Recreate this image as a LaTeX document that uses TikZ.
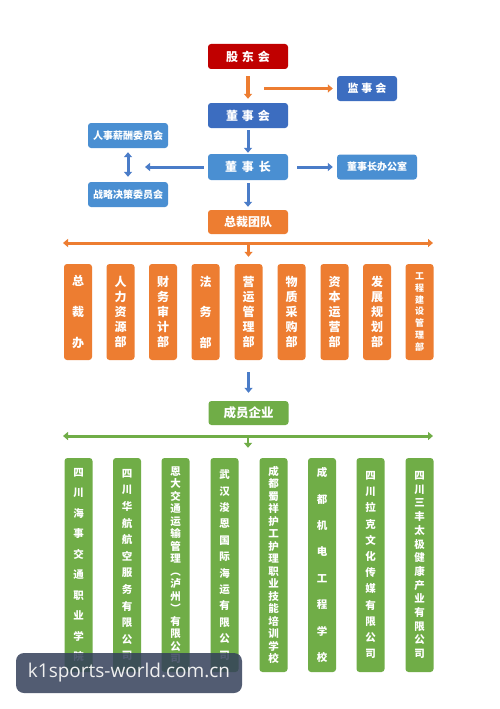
\documentclass[tikz,border=0pt]{standalone}
\usepackage{fontspec}
\newfontfamily\cjk{Noto Sans CJK SC}
\setsansfont{Open Sans}
\usetikzlibrary{arrows.meta}

\definecolor{gdred}{HTML}{C00000}
\definecolor{dsblue}{HTML}{3C6DC0}
\definecolor{lblue}{HTML}{4A8FD2}
\definecolor{arblue}{HTML}{4A7CC8}
\definecolor{zcorange}{HTML}{ED7D31}
\definecolor{cygreen}{HTML}{70AD47}
\definecolor{wmgray}{HTML}{34405A}

\begin{document}
\begin{tikzpicture}[x=1pt,y=-1pt,
    box/.style={draw=none, rounded corners=3pt, text=white, inner sep=0pt, font=\cjk\bfseries\fontsize{12}{14}\selectfont},
    topbox/.style={box, minimum width=80pt, minimum height=25pt},
    dept/.style 2 args={box, fill=zcorange, minimum width=28pt, minimum height=96pt, align=center, font=\cjk\bfseries\fontsize{#1}{#2}\selectfont},
    firm/.style 2 args={box, fill=cygreen, minimum width=28pt, minimum height=214pt, align=center, font=\cjk\bfseries\fontsize{#1}{#2}\selectfont},
    arr/.style={line width=3pt, -{Triangle[length=5pt,width=8pt]}},
    bar/.style={line width=3pt, {Triangle[length=5pt,width=8pt]}-{Triangle[length=5pt,width=8pt]}}]
\useasboundingbox[fill=white] (0,0) rectangle (500,709);

% top
\node[topbox, fill=gdred] (gdh) at (248,56.5) {股\hspace{4pt}东\hspace{4pt}会};
\node[topbox, fill=dsblue, minimum width=60pt] (jsh) at (367,88.5) {\fontsize{11}{13}\selectfont 监\hspace{3pt}事\hspace{3pt}会};
\node[topbox, fill=dsblue] (dsh) at (248,115.5) {董\hspace{4pt}事\hspace{4pt}会};
\node[topbox, fill=lblue, minimum height=26pt] (dsz) at (248,167) {董\hspace{5pt}事\hspace{5pt}长};
\node[topbox, fill=lblue] (rsxc) at (128,135.5) {\fontsize{10}{12}\selectfont 人事薪酬委员会};
\node[topbox, fill=lblue] (zljc) at (128,194.5) {\fontsize{10}{12}\selectfont 战略决策委员会};
\node[topbox, fill=lblue] (dszb) at (377,167) {\fontsize{10}{12}\selectfont 董事长办公室};
\node[topbox, fill=zcorange, minimum height=24pt] (zctd) at (248,222) {总裁团队};
\coordinate (jsstart) at (264,88.5);
\coordinate (wyend) at (145,167);

\draw[arr, zcorange, line width=4pt] (gdh) -- (dsh) [shorten <=7pt, shorten >=4pt];
\draw[arr, zcorange] (jsstart) -- (jsh) [shorten >=4pt];
\draw[arr, arblue] (dsh) -- (dsz) [shorten <=2pt, shorten >=1pt];
\draw[arr, arblue] (dsz) -- (wyend) [shorten <=4pt];
\draw[arr, arblue] (dsz) -- (dszb) [shorten <=9pt, shorten >=4pt];
\draw[bar, arblue] (rsxc) -- (zljc) [shorten <=4pt, shorten >=5pt];
\draw[arr, arblue] (dsz) -- (zctd) [shorten <=3pt, shorten >=3pt];

% departments
\coordinate (obl) at (63,243);
\coordinate (obr) at (433,243);
\coordinate (obm) at (248.5,243);
\draw[bar, zcorange] (obl) -- (obr);

\node[dept={12}{31}] (zcb) at (78,312) {总\\裁\\办};
\node[dept={12}{15}] (rlzy) at (120.5,312) {人\\力\\资\\源\\部};
\node[dept={12}{15}] (cwsj) at (163,312) {财\\务\\审\\计\\部};
\node[dept={12}{30.5}] (fwb) at (205.5,312) {法\\务\\部};
\node[dept={12}{15}] (yygl) at (248.5,312) {营\\运\\管\\理\\部};
\node[dept={12}{15}] (wzcg) at (291.5,312) {物\\质\\采\\购\\部};
\node[dept={12}{15}] (zbyy) at (334.5,312) {资\\本\\运\\营\\部};
\node[dept={12}{15}] (fzgh) at (377,312) {发\\展\\规\\划\\部};
\node[dept={9}{11.7}] (gcjs) at (419.5,312) {工\\程\\建\\设\\管\\理\\部};

\draw[arr, zcorange, line width=2.5pt] (obm) -- (yygl) [shorten >=7pt];

% member companies
\node[topbox, fill=cygreen, minimum height=24pt] (cyqy) at (248.5,413) {\fontsize{12.5}{14}\selectfont 成员企业};
\draw[arr, arblue] (yygl) -- (cyqy) [shorten <=12pt, shorten >=8pt];

\coordinate (gbl) at (63,436);
\coordinate (gbr) at (433,436);
\coordinate (gbm) at (248,436);
\draw[bar, cygreen] (gbl) -- (gbr);

\node[firm={10.5}{20.5}] (schs) at (78.5,565) {四\\川\\海\\事\\交\\通\\职\\业\\学\\院};
\node[firm={10.5}{16.6}] (schh) at (127,565) {四\\川\\华\\航\\航\\空\\服\\务\\有\\限\\公\\司};
\node[firm={10.5}{12.5}] (edjt) at (175.5,565) {恩\\大\\交\\通\\运\\输\\管\\理\\︵\\泸\\州\\︶\\有\\限\\公\\司};
\node[firm={10.5}{16.4}] (whjn) at (224.5,565) {武\\汉\\浚\\恩\\国\\际\\海\\运\\有\\限\\公\\司};
\node[firm={10.5}{12.5}] (cdsx) at (273.5,565) {成\\都\\蜀\\祥\\护\\工\\护\\理\\职\\业\\技\\能\\培\\训\\学\\校};
\node[firm={10.5}{26.4}] (cdjd) at (322,565) {成\\都\\机\\电\\工\\程\\学\\校};
\node[firm={10.5}{16.2}] (sclk) at (370.5,565) {四\\川\\拉\\克\\文\\化\\传\\媒\\有\\限\\公\\司};
\node[firm={10.5}{13.7}] (scsf) at (419.5,565) {四\\川\\三\\丰\\太\\极\\健\\康\\产\\业\\有\\限\\公\\司};

\draw[arr, cygreen, line width=2.5pt] (gbm) -- (cdjd.north -| gbm) [shorten >=10pt];

% watermark
\node[fill=wmgray, fill opacity=0.85, text opacity=1, rounded corners=8pt, minimum width=226pt, minimum height=40pt, text=white!88!gray, font=\sffamily\fontsize{19}{22}\selectfont] (wm) at (129,673) {k1sports-world.com.cn};
\end{tikzpicture}
\end{document}
